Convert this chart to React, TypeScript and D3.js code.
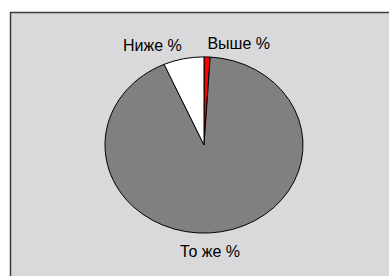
import { useEffect, useRef } from "react";
import * as d3 from "d3";

const categories = ["Выше %", "То же %", "Ниже %"];
const values = [1.0, 92.4, 6.6];
const colors = ["#ff0000", "#808080", "#ffffff"];

const App: React.FC = () => {
  const chartRef = useRef<SVGSVGElement | null>(null);

  useEffect(() => {
    if (!chartRef.current) return;
    const width = 389;
    const height = 276;

    const svg = d3
      .select(chartRef.current)
      .html("")
      .attr("width", width)
      .attr("height", height);

    // chart area (frame runs off the right/bottom edges)
    svg.append("rect")
      .attr("x", 10.5)
      .attr("y", 12.5)
      .attr("width", 400)
      .attr("height", 300)
      .attr("fill", "#d9d9db")
      .attr("stroke", "#3c3c3c")
      .attr("stroke-width", 1.5);

    const cx = 204;
    const cy = 145;
    const r = 99;
    const squash = 0.89; // the pie is drawn as an ellipse

    const data = categories.map((c, i) => ({ name: c, value: values[i], color: colors[i] }));
    const pie = d3.pie<typeof data[0]>().sort(null).value((d) => d.value);
    const arcs = pie(data);
    const arc = d3.arc<d3.PieArcDatum<typeof data[0]>>().innerRadius(0).outerRadius(r);

    const g = svg.append("g")
      .attr("transform", `translate(${cx},${cy}) scale(1,${squash})`);

    g.selectAll("path")
      .data(arcs)
      .join("path")
      .attr("d", arc as any)
      .attr("fill", (d) => d.data.color)
      .attr("stroke", "#000")
      .attr("stroke-width", 1)
      .attr("vector-effect", "non-scaling-stroke");

    // Labels
    const labelR = 108;
    arcs.forEach((d) => {
      const mid = (d.startAngle + d.endAngle) / 2;
      const sx = Math.sin(mid);
      const cyv = -Math.cos(mid);
      let x = cx + labelR * sx;
      let y = cy + labelR * squash * cyv;
      let anchor = "middle";
      if (Math.abs(sx) < 0.3 && cyv > 0) {
        anchor = "middle";
        x = cx + 6;
        y += 17;
      } else if (sx >= 0) {
        anchor = "start";
      } else {
        anchor = "end";
      }
      svg.append("text")
        .attr("x", x)
        .attr("y", y)
        .attr("text-anchor", anchor)
        .style("font-family", "'Liberation Sans', Arial, sans-serif")
        .style("font-size", "16px")
        .attr("fill", "#000")
        .text(d.data.name);
    });
  }, []);

  return (
    <div style={{ position: "absolute", left: 0, top: 0 }}>
      <svg ref={chartRef} style={{ display: "block" }}></svg>
    </div>
  );
};

export default App;
